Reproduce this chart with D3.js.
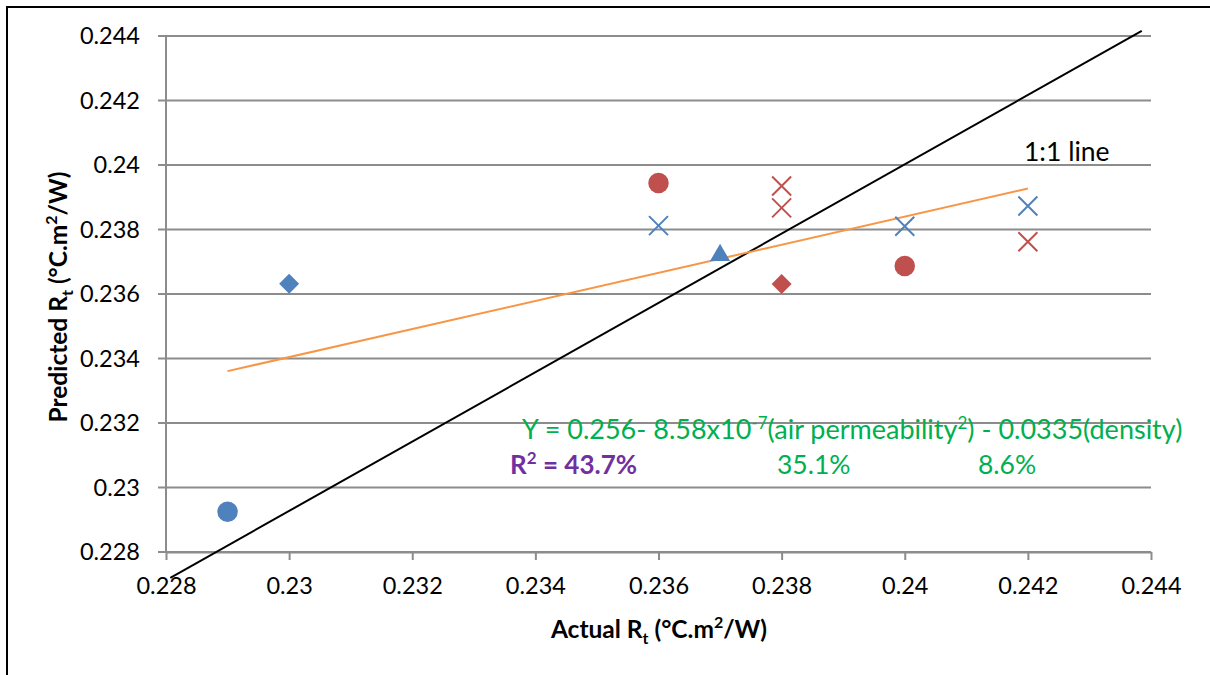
<!DOCTYPE html>
<html>
<head>
  <title>Predicted vs actual Rt</title>
  <style>
    body { margin: 0; background: #fff; }
    svg { font-family: Lato, "Open Sans", sans-serif; }
  </style>
  <script src="https://d3js.org/d3.v7.min.js"></script>
</head>
<body>
<svg width="1210" height="675"></svg>
<script>
// data: [actual Rt, predicted Rt]
var blueCircle   = [[0.229, 0.22925]];
var blueDiamond  = [[0.230, 0.23632]];
var blueTriangle = [[0.237, 0.2372]];
var blueCross    = [[0.236, 0.23812], [0.240, 0.23810], [0.242, 0.23873]];
var redCircle    = [[0.236, 0.23944], [0.240, 0.23687]];
var redDiamond   = [[0.238, 0.23631]];
var redCross     = [[0.238, 0.23935], [0.238, 0.23867], [0.242, 0.23762]];
// hand drawn "1:1 line" end points
var oneToOne     = [[0.22807, 0.2272], [0.24385, 0.24416]];

var xTicks = [0.228, 0.23, 0.232, 0.234, 0.236, 0.238, 0.24, 0.242, 0.244];
var yTicks = [0.228, 0.23, 0.232, 0.234, 0.236, 0.238, 0.24, 0.242, 0.244];
var tickLabels = ["0.228", "0.23", "0.232", "0.234", "0.236", "0.238", "0.24", "0.242", "0.244"];

var blue = "#4f81bd", red = "#c0504d", orange = "#f79646",
    green = "#00b050", purple = "#7030a0", grid = "#8c8c8c";

var svg = d3.select("svg");

// outer frame (cut off at right and bottom like the screenshot)
svg.append("rect")
   .attr("x", 7).attr("y", 7)
   .attr("width", 1250).attr("height", 720)
   .attr("fill", "none").attr("stroke", "#000").attr("stroke-width", 2);

var x = d3.scaleLinear().domain([0.228, 0.244]).range([166, 1151]),
    y = d3.scaleLinear().domain([0.228, 0.244]).range([552, 36]);

var g = svg.append("g");

// horizontal gridlines + left ticks
g.selectAll(".grid")
 .data(yTicks)
 .enter().append("line")
 .attr("class", "grid")
 .attr("x1", 158).attr("x2", x(0.244))
 .attr("y1", function(d) { return y(d); })
 .attr("y2", function(d) { return y(d); })
 .attr("stroke", grid).attr("stroke-width", 2);

// y axis line
g.append("line")
 .attr("x1", x(0.228)).attr("x2", x(0.228))
 .attr("y1", y(0.244)).attr("y2", y(0.228))
 .attr("stroke", grid).attr("stroke-width", 2);

// x axis
var xAxis = d3.axisBottom(x)
    .tickValues(xTicks)
    .tickFormat(function(d, i) { return tickLabels[i]; })
    .tickSize(8)
    .tickSizeOuter(0)
    .tickPadding(17);
var xa = g.append("g")
    .attr("transform", "translate(0," + y(0.228) + ")")
    .call(xAxis);
xa.select(".domain").attr("stroke", grid).attr("stroke-width", 2);
xa.selectAll(".tick line").attr("stroke", grid).attr("stroke-width", 2);
xa.selectAll(".tick text")
  .attr("fill", "#000").attr("font-size", 23.5)
  .attr("font-family", "Lato, sans-serif");

// y labels
var yAxis = d3.axisLeft(y)
    .tickValues(yTicks)
    .tickFormat(function(d, i) { return tickLabels[i]; })
    .tickSize(0)
    .tickPadding(26);
var ya = g.append("g")
    .attr("transform", "translate(" + x(0.228) + ",0)")
    .call(yAxis);
ya.select(".domain").remove();
ya.selectAll(".tick text")
  .attr("fill", "#000").attr("font-size", 23.5)
  .attr("font-family", "Lato, sans-serif");

// trendline: least squares through all points
var all = [].concat(blueCircle, blueDiamond, blueTriangle, blueCross, redCircle, redDiamond, redCross);
var mx = d3.mean(all, function(d) { return d[0]; }),
    my = d3.mean(all, function(d) { return d[1]; });
var slope = d3.sum(all, function(d) { return (d[0] - mx) * (d[1] - my); }) /
            d3.sum(all, function(d) { return (d[0] - mx) * (d[0] - mx); });
var xr = d3.extent(all, function(d) { return d[0]; });
var trend = xr.map(function(v) { return [v, my + slope * (v - mx)]; });

var line = d3.line()
    .x(function(d) { return x(d[0]); })
    .y(function(d) { return y(d[1]); });

g.append("path")
 .datum(oneToOne)
 .attr("d", line)
 .attr("fill", "none").attr("stroke", "#000").attr("stroke-width", 2);

g.append("path")
 .datum(trend)
 .attr("d", line)
 .attr("fill", "none").attr("stroke", orange).attr("stroke-width", 2);

// markers
function drawSymbol(data, type, size, color) {
  g.selectAll(null)
   .data(data)
   .enter().append("path")
   .attr("d", d3.symbol().type(type).size(size))
   .attr("transform", function(d) {
      var t = "translate(" + x(d[0]) + "," + y(d[1]) + ")";
      return type === d3.symbolSquare ? t + " rotate(45)" : t;
   })
   .attr("fill", color);
}
function drawCross(data, color) {
  g.selectAll(null)
   .data(data)
   .enter().append("path")
   .attr("d", function(d) {
      var p = d3.path(), cx = x(d[0]), cy = y(d[1]), r = 9.5;
      p.moveTo(cx - r, cy - r); p.lineTo(cx + r, cy + r);
      p.moveTo(cx - r, cy + r); p.lineTo(cx + r, cy - r);
      return p.toString();
   })
   .attr("fill", "none").attr("stroke", color).attr("stroke-width", 2);
}

drawSymbol(blueCircle, d3.symbolCircle, 330, blue);
drawSymbol(blueDiamond, d3.symbolSquare, 200, blue);
drawSymbol(blueTriangle, d3.symbolTriangle, 175, blue);
drawCross(blueCross, blue);
drawSymbol(redCircle, d3.symbolCircle, 330, red);
drawSymbol(redDiamond, d3.symbolSquare, 200, red);
drawCross(redCross, red);

// "1:1 line" label
svg.append("text")
   .attr("x", 1024).attr("y", 161)
   .attr("font-size", 26.5)
   .text("1:1 line");

// equation
var eq = svg.append("text")
   .attr("x", 522).attr("y", 439)
   .attr("font-size", 27)
   .attr("fill", green);
eq.append("tspan").text("Y = 0.256- 8.58x10");
eq.append("tspan").attr("font-size", 17).attr("dy", -10).text("-7");
eq.append("tspan").attr("dy", 10).text("(air permeability");
eq.append("tspan").attr("font-size", 17).attr("dy", -10).text("2");
eq.append("tspan").attr("dy", 10).text(") - 0.0335(density)");

var r2 = svg.append("text")
   .attr("x", 510).attr("y", 474)
   .attr("font-size", 26).attr("font-weight", "bold")
   .attr("fill", purple);
r2.append("tspan").text("R");
r2.append("tspan").attr("font-size", 17).attr("dy", -10).text("2");
r2.append("tspan").attr("dy", 10).text(" = 43.7%");

svg.append("text").attr("x", 777).attr("y", 474)
   .attr("font-size", 26.5).attr("fill", green).text("35.1%");
svg.append("text").attr("x", 978).attr("y", 474)
   .attr("font-size", 26.5).attr("fill", green).text("8.6%");

// axis titles
function title(sel, main) {
  sel.append("tspan").text(main + " R");
  sel.append("tspan").attr("font-size", 16).attr("dy", 6).text("t");
  sel.append("tspan").attr("dy", -6).text(" (°C.m");
  sel.append("tspan").attr("font-size", 16).attr("dy", -10).text("2");
  sel.append("tspan").attr("dy", 10).text("/W)");
}
var xt = svg.append("text")
   .attr("x", 659).attr("y", 638)
   .attr("text-anchor", "middle")
   .attr("font-size", 24.5).attr("font-weight", "bold");
title(xt, "Actual");

var yt = svg.append("text")
   .attr("transform", "translate(67,297) rotate(-90)")
   .attr("text-anchor", "middle")
   .attr("font-size", 24.5).attr("font-weight", "bold");
title(yt, "Predicted");
</script>
</body>
</html>
